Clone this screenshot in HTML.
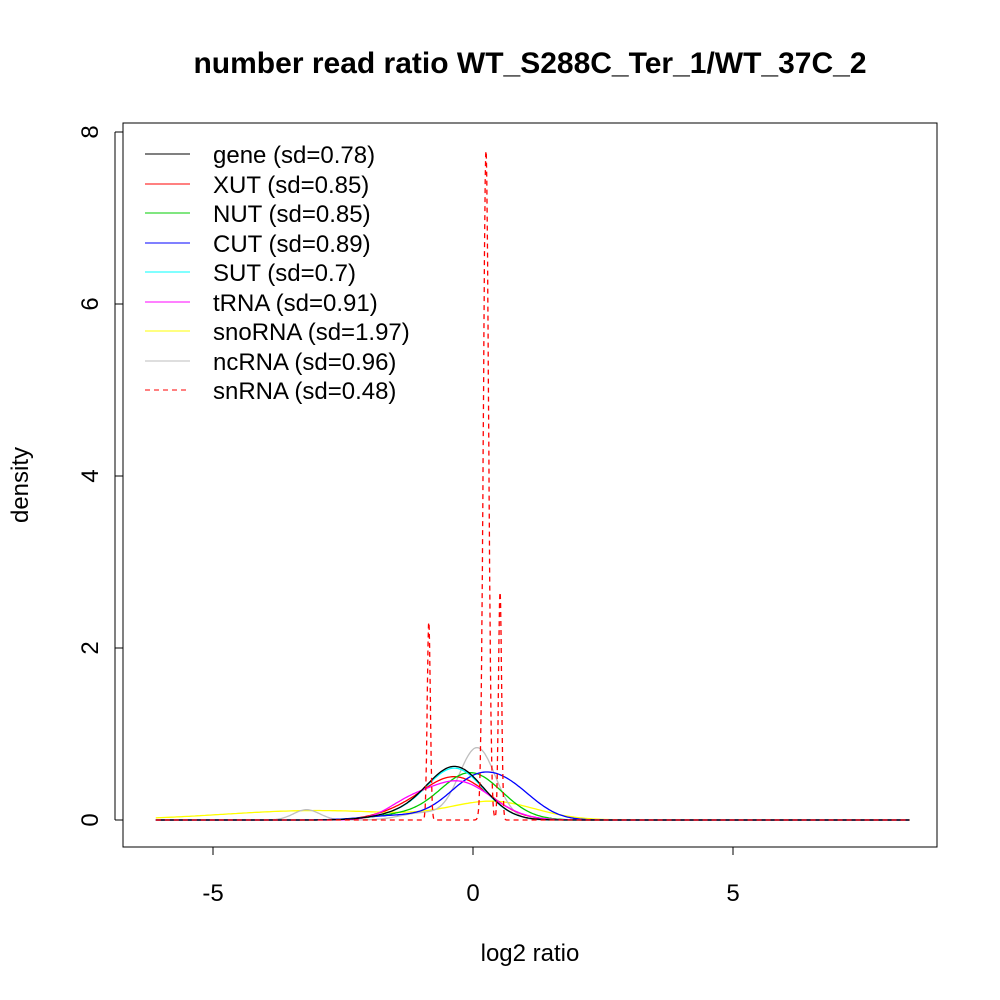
<!DOCTYPE html>
<html><head><meta charset="utf-8"><style>
body{margin:0;background:#fff}
svg{display:block}
text{font-family:"Liberation Sans",Arial,sans-serif}
</style></head><body>
<svg id="s" width="1000" height="1000" viewBox="0 0 1000 1000">
<rect width="1000" height="1000" fill="#fff"/>
<text x="530" y="73" font-size="30" font-weight="bold" text-anchor="middle">number read ratio WT_S288C_Ter_1/WT_37C_2</text>
<rect x="123" y="123" width="814" height="724" fill="none" stroke="#000" stroke-width="1"/>
<g stroke="#000" fill="none">
<line x1="213" y1="847" x2="733" y2="847"/>
<line x1="213" y1="847" x2="213" y2="855"/><line x1="473" y1="847" x2="473" y2="855"/><line x1="733" y1="847" x2="733" y2="855"/>
<line x1="115" y1="132" x2="115" y2="820"/>
<line x1="115" y1="820" x2="123" y2="820"/><line x1="115" y1="648" x2="123" y2="648"/><line x1="115" y1="476" x2="123" y2="476"/><line x1="115" y1="304" x2="123" y2="304"/><line x1="115" y1="132" x2="123" y2="132"/>
</g>
<g font-size="24" text-anchor="middle">
<text x="213" y="901">-5</text><text x="473" y="901">0</text><text x="733" y="901">5</text>
<text x="530" y="961">log2 ratio</text>
<text transform="translate(98,820) rotate(-90)">0</text>
<text transform="translate(98,648) rotate(-90)">2</text>
<text transform="translate(98,476) rotate(-90)">4</text>
<text transform="translate(98,304) rotate(-90)">6</text>
<text transform="translate(98,132) rotate(-90)">8</text>
<text transform="translate(28,485) rotate(-90)">density</text>
</g>
<g id="curves" fill="none" stroke-width="1.3"></g>
<g font-size="24">
<line x1="145" y1="154" x2="190" y2="154" stroke="#000"/><text x="213" y="163">gene (sd=0.78)</text>
<line x1="145" y1="184" x2="190" y2="184" stroke="#f00"/><text x="213" y="193">XUT (sd=0.85)</text>
<line x1="145" y1="213" x2="190" y2="213" stroke="#0c0"/><text x="213" y="222">NUT (sd=0.85)</text>
<line x1="145" y1="243" x2="190" y2="243" stroke="#00f"/><text x="213" y="252">CUT (sd=0.89)</text>
<line x1="145" y1="272" x2="190" y2="272" stroke="#0ff"/><text x="213" y="281">SUT (sd=0.7)</text>
<line x1="145" y1="302" x2="190" y2="302" stroke="#f0f"/><text x="213" y="311">tRNA (sd=0.91)</text>
<line x1="145" y1="331" x2="190" y2="331" stroke="#ff0"/><text x="213" y="340">snoRNA (sd=1.97)</text>
<line x1="145" y1="361" x2="190" y2="361" stroke="#bebebe"/><text x="213" y="370">ncRNA (sd=0.96)</text>
<line x1="145" y1="390" x2="190" y2="390" stroke="#f00" stroke-dasharray="5,4"/><text x="213" y="399">snRNA (sd=0.48)</text>
</g>
</svg>
<script>
var g=document.getElementById('curves');
function path(col,comps,dash,step){
 var d='';for(var x=-6.1;x<=8.4;x+=step){var y=0;comps.forEach(function(c){y+=c[0]*Math.exp(-0.5*Math.pow((x-c[1])/c[2],2));});
 d+=(d?'L':'M')+(473+52*x).toFixed(1)+','+(820-86*y).toFixed(1);}
 var p=document.createElementNS('http://www.w3.org/2000/svg','path');p.setAttribute('d',d);p.setAttribute('stroke',col);if(dash)p.setAttribute('stroke-dasharray','5,4');g.appendChild(p);}
path('#ff0',[[0.11,-3,1.8],[0.2,0.4,0.8]],0,0.05);
path('#bebebe',[[0.12,-3.2,0.25],[0.84,0.08,0.35],[0.08,-1,0.4]],0,0.03);
path('#f00',[[0.5,-0.35,0.65],[0.05,-1.5,0.5]],0,0.03);
path('#0c0',[[0.55,-0.05,0.6],[0.05,-1.5,0.5]],0,0.03);
path('#00f',[[0.45,0.05,0.55],[0.25,0.8,0.5],[0.05,-1.5,0.6]],0,0.03);
path('#0ff',[[0.6,-0.35,0.55],[0.05,-1.5,0.5]],0,0.03);
path('#f0f',[[0.45,-0.3,0.65],[0.12,-1.3,0.4]],0,0.03);
path('#000',[[0.62,-0.35,0.55],[0.05,-1.5,0.5]],0,0.03);
path('#f00',[[2.3,-0.85,0.03],[7.78,0.25,0.05],[2.65,0.52,0.03]],1,0.005);
</script>
</body></html>
